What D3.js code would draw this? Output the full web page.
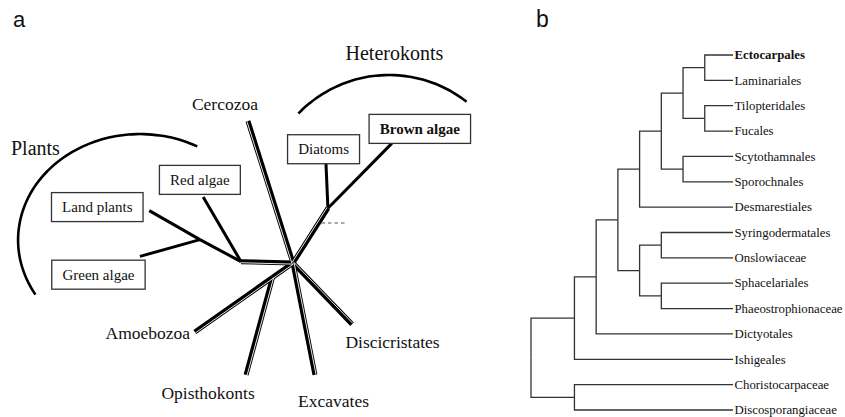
<!DOCTYPE html>
<html lang="en">
<head>
<meta charset="UTF-8" />
<title>Eukaryote tree and brown algal orders</title>
<script src="https://d3js.org/d3.v7.min.js"></script>
<style>
  body { margin: 0; background: #fff; }
  svg { display: block; }
  text { font-family: "Liberation Serif", "Times New Roman", serif; fill: #111; }
  .panel { font-family: "Liberation Sans", Arial, sans-serif; }
</style>
</head>
<body>
<svg id="fig" width="845" height="417"></svg>
<script>
// ---------- panel a: unrooted eukaryote tree ----------
// angle in degrees (screen coords, 0 = right, 90 = down), length in tree units
const branches = [
  { id: "plantStem", parent: "root", angle: 181.5, len: 0.52, dbl: true },
  { id: "redAlgae", parent: "plantStem", angle: -120.3, len: 0.75, dbl: false },
  { id: "greenStem", parent: "plantStem", angle: -151.8, len: 0.466, dbl: false },
  { id: "landPlants", parent: "greenStem", angle: -150.2, len: 0.584, dbl: false },
  { id: "greenAlgae", parent: "greenStem", angle: 164.4, len: 0.623, dbl: false },
  { id: "hetStem", parent: "root", angle: -57.5, len: 0.65, dbl: true },
  { id: "brownAlgae", parent: "hetStem", angle: -45.4, len: 0.91, dbl: false },
  { id: "diatoms", parent: "hetStem", angle: -92.5, len: 0.45, dbl: false },
  { id: "cercozoa", parent: "root", angle: -107.6, len: 1.49, dbl: true },
  { id: "excavates", parent: "root", angle: 78.9, len: 1.14, dbl: true },
  { id: "discicristates", parent: "root", angle: 46, len: 0.85, dbl: true },
  { id: "amoebaStem", parent: "root", angle: 144.9, len: 0.25, dbl: true },
  { id: "amoebozoa", parent: "amoebaStem", angle: 144.9, len: 0.95, dbl: true },
  { id: "opisthokonts", parent: "amoebaStem", angle: 105.2, len: 1.01, dbl: true }
];

const boxedTaxa = [
  { id: "brownAlgae", text: "Brown algae", bold: true },
  { id: "diatoms", text: "Diatoms", bold: false },
  { id: "redAlgae", text: "Red algae", bold: false },
  { id: "landPlants", text: "Land plants", bold: false },
  { id: "greenAlgae", text: "Green algae", bold: false }
];

const plainTaxa = [
  { id: "cercozoa", text: "Cercozoa" },
  { id: "amoebozoa", text: "Amoebozoa" },
  { id: "opisthokonts", text: "Opisthokonts" },
  { id: "excavates", text: "Excavates" },
  { id: "discicristates", text: "Discicristates" }
];

const groupNames = ["Plants", "Heterokonts"];

// ---------- panel b: brown algal orders ----------
const orders = [
  "Ectocarpales", "Laminariales", "Tilopteridales", "Fucales",
  "Scytothamnales", "Sporochnales", "Desmarestiales", "Syringodermatales",
  "Onslowiaceae", "Sphacelariales", "Phaeostrophionaceae", "Dictyotales",
  "Ishigeales", "Choristocarpaceae", "Discosporangiaceae"
];
const boldOrders = ["Ectocarpales"];
// topology, leaves referred to by index in orders
const topology = "((((((((0,1),(2,3)),(4,5)),6),((7,8),(9,10))),11),12),(13,14))";

const svg = d3.select("#fig");

// ===== panel a =====
const gA = svg.append("g");
const center = [293, 263];
const len = d3.scaleLinear().domain([0, 1]).range([0, 100]);
const rad = d3.scaleLinear().domain([0, 180]).range([0, Math.PI]);

const pos = { root: center };
branches.forEach(b => {
  const p = pos[b.parent];
  const a = rad(b.angle);
  pos[b.id] = [p[0] + len(b.len) * Math.cos(a), p[1] + len(b.len) * Math.sin(a)];
});

// group arcs
const arcLine = d3.line().curve(d3.curveBasis);
function ellipseArc(cx, cy, rx, ry, t0, t1) {
  return d3.range(0, 41).map(i => {
    const t = rad(t0 + (t1 - t0) * i / 40);
    return [cx + rx * Math.cos(t), cy + ry * Math.sin(t)];
  });
}
const arcs = {
  Plants: { pts: ellipseArc(140, 240, 122, 106, -62, -211), label: [11, 155] },
  Heterokonts: { pts: ellipseArc(389, 201, 126, 126, -136, -52), label: [345.5, 59.5] }
};
groupNames.forEach(name => {
  gA.append("path")
    .attr("d", arcLine(arcs[name].pts))
    .attr("fill", "none")
    .attr("stroke", "#000")
    .attr("stroke-width", 2.6);
  gA.append("text")
    .attr("x", arcs[name].label[0])
    .attr("y", arcs[name].label[1])
    .attr("font-size", 20)
    .text(name);
});

// dashed mark on heterokont stem
const het = branches.find(b => b.id === "hetStem");
const dashStart = [
  center[0] + len(het.len * 0.73) * Math.cos(rad(het.angle)),
  center[1] + len(het.len * 0.73) * Math.sin(rad(het.angle))
];
gA.append("line")
  .attr("x1", dashStart[0] + 3).attr("y1", dashStart[1])
  .attr("x2", dashStart[0] + 27).attr("y2", dashStart[1])
  .attr("stroke", "#555")
  .attr("stroke-width", 1.2)
  .attr("stroke-dasharray", "3.5,3");

// branches: black body, then a thin off-centre white gap on double lines
gA.selectAll("line.outer")
  .data(branches)
  .join("line")
  .attr("class", "outer")
  .attr("x1", d => pos[d.parent][0]).attr("y1", d => pos[d.parent][1])
  .attr("x2", d => pos[d.id][0]).attr("y2", d => pos[d.id][1])
  .attr("stroke", "#000")
  .attr("stroke-width", d => (d.dbl ? 5 : 3));

const shift = d => [1.1 * Math.sin(rad(d.angle)), -1.1 * Math.cos(rad(d.angle))];
gA.selectAll("line.inner")
  .data(branches.filter(d => d.dbl))
  .join("line")
  .attr("class", "inner")
  .attr("x1", d => pos[d.parent][0] + shift(d)[0]).attr("y1", d => pos[d.parent][1] + shift(d)[1])
  .attr("x2", d => pos[d.id][0] + shift(d)[0]).attr("y2", d => pos[d.id][1] + shift(d)[1])
  .attr("stroke", "#fff")
  .attr("stroke-width", 0.9);

// plain leaf labels: offset of text centre / baseline from branch tip
const plainOffset = {
  cercozoa: [-23, -11],
  amoebozoa: [-47, 7],
  opisthokonts: [-38, 24],
  excavates: [18.6, 32],
  discicristates: [40.5, 24]
};
gA.selectAll("text.taxon")
  .data(plainTaxa)
  .join("text")
  .attr("class", "taxon")
  .attr("text-anchor", "middle")
  .attr("font-size", 17.5)
  .attr("x", d => pos[d.id][0] + plainOffset[d.id][0])
  .attr("y", d => pos[d.id][1] + plainOffset[d.id][1])
  .text(d => d.text);

// boxed labels: offset of box centre from branch tip
const boxOffset = {
  brownAlgae: [28, -14.5],
  diatoms: [-2.4, -14],
  redAlgae: [-3.3, -17],
  landPlants: [-52, -3.5],
  greenAlgae: [-41.5, 18.3]
};
const box = gA.selectAll("g.box")
  .data(boxedTaxa)
  .join("g")
  .attr("class", "box")
  .attr("transform", d =>
    `translate(${pos[d.id][0] + boxOffset[d.id][0]},${pos[d.id][1] + boxOffset[d.id][1]})`);

box.append("text")
  .attr("text-anchor", "middle")
  .attr("dy", "0.33em")
  .attr("font-size", 15)
  .attr("font-weight", d => (d.bold ? "bold" : "normal"))
  .text(d => d.text);

box.insert("rect", "text")
  .each(function () {
    const bb = this.parentNode.querySelector("text").getBBox();
    d3.select(this)
      .attr("x", -bb.width / 2 - 10.5)
      .attr("y", -14.5)
      .attr("width", bb.width + 21)
      .attr("height", 29);
  })
  .attr("fill", "#fff")
  .attr("stroke", "#333")
  .attr("stroke-width", 1.3);

svg.append("text").attr("class", "panel")
  .attr("x", 13).attr("y", 27).attr("font-size", 22).text("a");

// ===== panel b =====
function parseNewick(s) {
  let i = 0;
  function node() {
    if (s[i] === "(") {
      i++;
      const children = [node()];
      while (s[i] === ",") { i++; children.push(node()); }
      i++; // ')'
      return { children };
    }
    let tok = "";
    while (i < s.length && !",()".includes(s[i])) tok += s[i++];
    return { name: orders[+tok] };
  }
  return node();
}

const tree = d3.hierarchy(parseNewick(topology));
const leafDepth = 9.3;
const xB = d3.scaleLinear().domain([0, leafDepth]).range([531, 733]);
const yB = d3.scalePoint().domain(orders).range([55, 410]);

tree.each(d => {
  if (!d.parent) d.dist = 0;
  else d.dist = d.parent.dist + (d.parent.parent ? 1 : 2);
});
tree.eachAfter(d => {
  if (d.children) {
    d.py = (d.children[0].py + d.children[d.children.length - 1].py) / 2;
    d.px = xB(d.dist);
  } else {
    d.py = yB(d.data.name);
    d.px = xB(leafDepth);
  }
});

const gB = svg.append("g");
gB.selectAll("path.link")
  .data(tree.descendants().filter(d => d.parent))
  .join("path")
  .attr("class", "link")
  .attr("d", d => `M${d.parent.px},${d.parent.py}V${d.py}H${d.px}`)
  .attr("fill", "none")
  .attr("stroke", "#333")
  .attr("stroke-width", 1.3);

gB.selectAll("text.order")
  .data(tree.leaves())
  .join("text")
  .attr("class", "order")
  .attr("x", d => d.px + 1.5)
  .attr("y", d => d.py)
  .attr("dy", "0.33em")
  .attr("font-size", 12.8)
  .attr("font-weight", d => (boldOrders.includes(d.data.name) ? "bold" : "normal"))
  .text(d => d.data.name);

svg.append("text").attr("class", "panel")
  .attr("x", 536).attr("y", 27).attr("font-size", 23).text("b");
</script>
</body>
</html>
